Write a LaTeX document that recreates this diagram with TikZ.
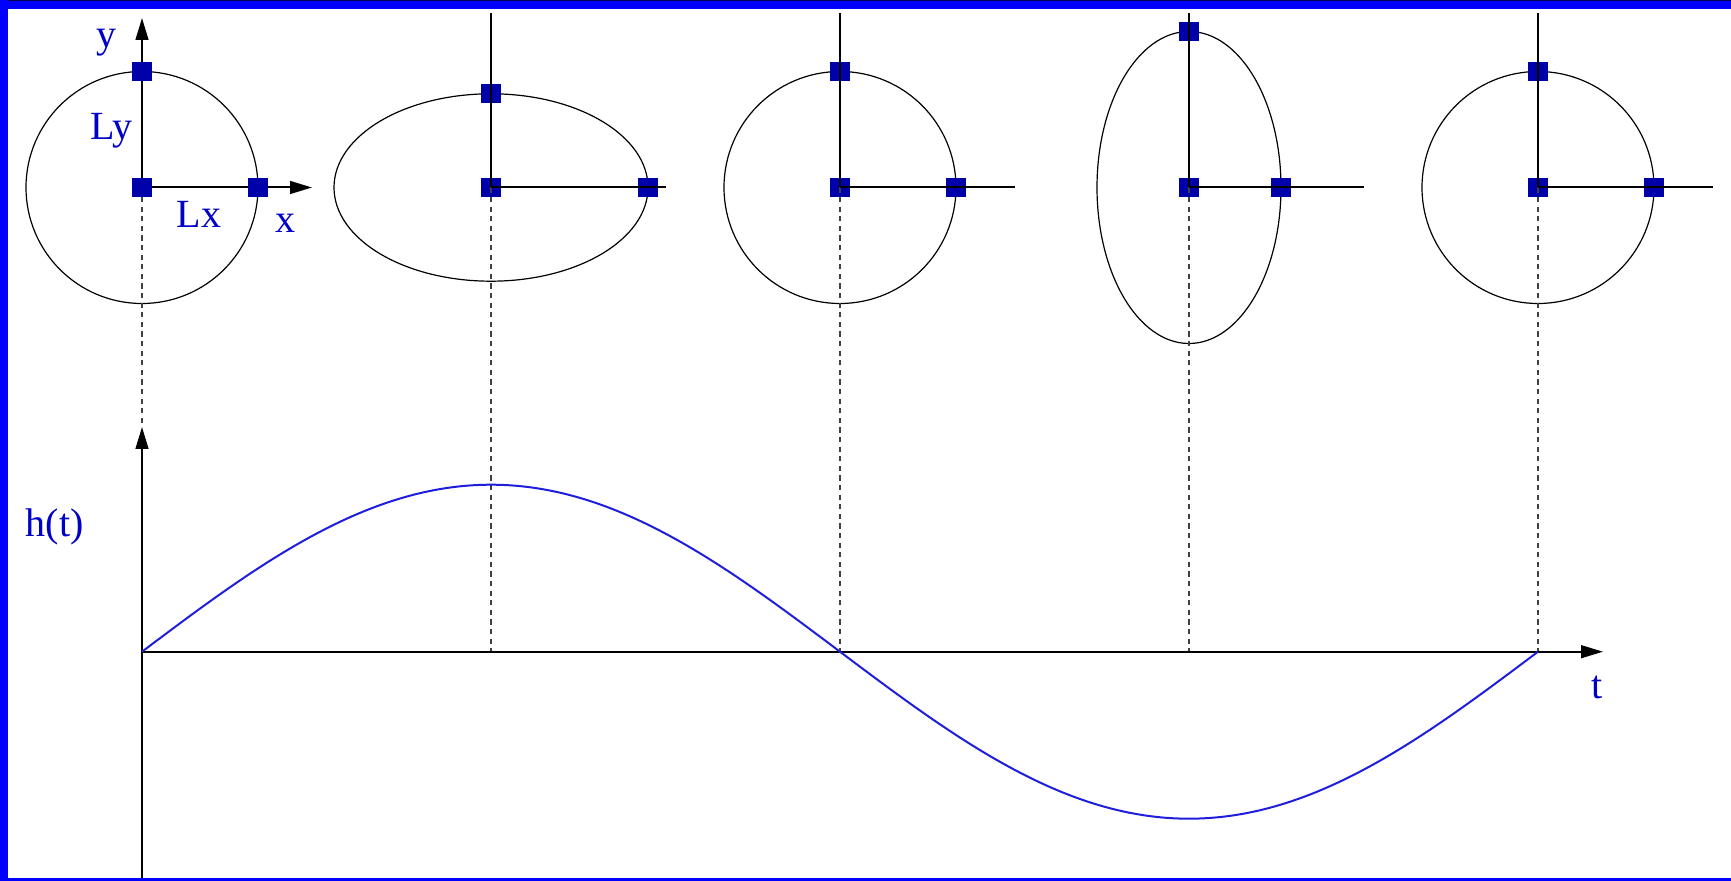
\documentclass[tikz,border=0pt]{standalone}
\usepackage{fontspec}
\setmainfont{Liberation Serif}
\usetikzlibrary{arrows.meta}
\definecolor{frameblue}{RGB}{0,0,255}
\definecolor{sqblue}{RGB}{0,0,170}
\definecolor{txtblue}{RGB}{0,0,200}
\definecolor{curveblue}{RGB}{30,30,220}
\tikzset{
  sq/.style={rectangle, fill=sqblue, draw=none, inner sep=0pt, minimum size=9.6pt},
  axisline/.style={line width=1pt, black},
  arrowline/.style={line width=1pt, black, -{Triangle[length=11pt,width=6.4pt]}},
  shapeline/.style={line width=0.6pt, black},
  dashline/.style={line width=0.6pt, black!75, dash pattern=on 2.6pt off 2.2pt},
  lbl/.style={text=txtblue, font=\fontsize{20}{24}\selectfont, anchor=base, inner sep=0pt},
  curve/.style={line width=1pt, curveblue}
}
\begin{document}
\begin{tikzpicture}[x=0.5pt,y=-0.5pt]
\useasboundingbox (0,0) rectangle (1731,881);
\fill[white] (0,0) rectangle (1731,881);
% frame centres
\coordinate (c1) at (142,187.5);
\coordinate (c2) at (491,187.5);
\coordinate (c3) at (840,187.5);
\coordinate (c4) at (1189,187.5);
\coordinate (c5) at (1538,187.5);
% axes ends
\coordinate (v1) at (142,18);
\coordinate (h1) at (312,187.5);
\coordinate (v2) at (491,13);
\coordinate (h2) at (665.5,187.5);
\coordinate (v3) at (840,13);
\coordinate (h3) at (1014.5,187.5);
\coordinate (v4) at (1189,13);
\coordinate (h4) at (1363.5,187.5);
\coordinate (v5) at (1538,13);
\coordinate (h5) at (1712.5,187.5);
% time axis
\coordinate (o) at (142,651.7);
\coordinate (tend) at (1603,651.7);
\coordinate (hbot) at (142,881);
\coordinate (htop) at (142,427);
\coordinate (d2) at (491,651.7);
\coordinate (d3) at (840,651.7);
\coordinate (d4) at (1189,651.7);
\coordinate (d5) at (1538,651.7);

% shapes
\draw[shapeline] (c1) circle [radius=116];
\draw[shapeline] (c2) ellipse [x radius=157, y radius=93.7];
\draw[shapeline] (c3) circle [radius=116];
\draw[shapeline] (c4) ellipse [x radius=92, y radius=156];
\draw[shapeline] (c5) circle [radius=116];

% squares for frames 2-5 (lines drawn over them)
\node[sq] (s2c) at (c2) {};
\node[sq] (s2t) at (491,93.8) {};
\node[sq] (s2r) at (648,187.5) {};
\node[sq] (s3c) at (c3) {};
\node[sq] (s3t) at (840,71.5) {};
\node[sq] (s3r) at (956,187.5) {};
\node[sq] (s4c) at (c4) {};
\node[sq] (s4t) at (1189,31.5) {};
\node[sq] (s4r) at (1281,187.5) {};
\node[sq] (s5c) at (c5) {};
\node[sq] (s5t) at (1538,71.5) {};
\node[sq] (s5r) at (1654,187.5) {};

% dashed drops
\draw[dashline] (c1) -- (htop);
\draw[dashline] (c2) -- (d2);
\draw[dashline] (c3) -- (d3);
\draw[dashline] (c4) -- (d4);
\draw[dashline] (c5) -- (d5);

% frame axes
\draw[arrowline] (c1) -- (v1);
\draw[arrowline] (c1) -- (h1);
\draw[axisline] (c2) -- (v2);
\draw[axisline] (c2) -- (h2);
\draw[axisline] (c3) -- (v3);
\draw[axisline] (c3) -- (h3);
\draw[axisline] (c4) -- (v4);
\draw[axisline] (c4) -- (h4);
\draw[axisline] (c5) -- (v5);
\draw[axisline] (c5) -- (h5);

% squares for frame 1 (drawn over the lines)
\node[sq] (s1c) at (c1) {};
\node[sq] (s1t) at (142,71.5) {};
\node[sq] (s1r) at (258,187.5) {};

% time plot axes
\draw[arrowline] (hbot) -- (htop);
\draw[arrowline] (o) -- (tend);

% sine curve
\draw[curve] plot[domain=0:360, samples=120, smooth] ({142+3.87778*\x},{651.7-167*sin(\x)});

% labels
\node[lbl] (ly) at (106,48) {y};
\node[lbl] (lLy) at (111.5,140) {Ly};
\node[lbl] (lLx) at (199,228) {Lx};
\node[lbl] (lx) at (285,233) {x};
\node[lbl] (lh) at (54.7,536.7) {h(t)};
\node[lbl] (lt) at (1597.5,699) {t};

% blue border
\fill[frameblue] (0,0) rectangle (1731,9);
\fill[black!70!frameblue] (0,0) rectangle (1731,1.5);
\fill[frameblue] (0,0) rectangle (7.5,881);
\fill[frameblue] (0,878.5) rectangle (1731,881);
\end{tikzpicture}
\end{document}
